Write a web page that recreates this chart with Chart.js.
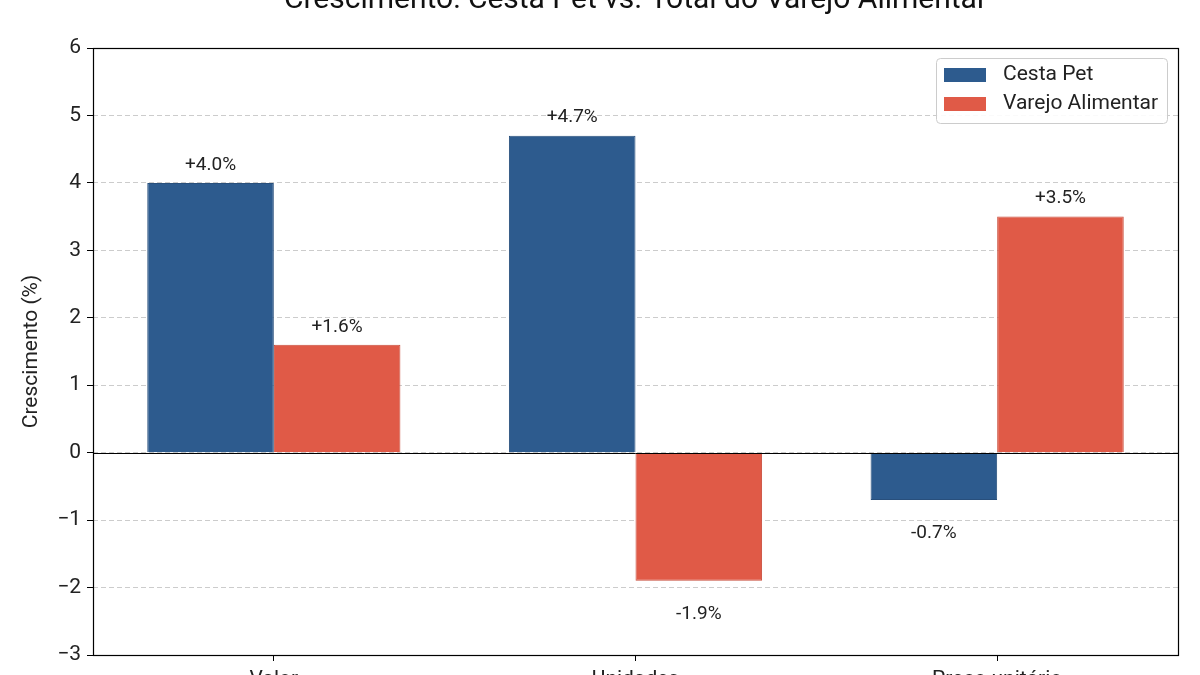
<!DOCTYPE html>
<html>
<head>
<meta charset="utf-8">
<script src="https://cdn.jsdelivr.net/npm/chart.js@4/dist/chart.umd.min.js"></script>
<style>
    html, body { margin: 0; padding: 0; background: #fff; overflow: hidden; }
    #wrap { position: absolute; left: 0; top: -30px; width: 1200px; height: 720px; }
</style>
</head>
<body>
<div id="wrap"><canvas id="chart" width="1200" height="720"></canvas></div>
<script>
const categories = ["Valor", "Unidades", "Preço unitário"];
const seriesNames = ["Cesta Pet", "Varejo Alimentar"];
const cestaPet = [4.0, 4.7, -0.7];
const varejoAlimentar = [1.6, -1.9, 3.5];
const yTicks = [-3, -2, -1, 0, 1, 2, 3, 4, 5, 6];
const chartTitle = "Crescimento: Cesta Pet vs. Total do Varejo Alimentar";

const FONT = "Roboto, 'Open Sans', sans-serif";
const colors = ["#2d5b8e", "#e05a47"];
const edges = ["#284f7c", "#c94d3c"];

// value labels above / below each bar
const barLabels = {
    id: "barLabels",
    afterDatasetsDraw(chart) {
        const ctx = chart.ctx;
        ctx.save();
        ctx.font = "19px " + FONT;
        ctx.fillStyle = "#222";
        ctx.textAlign = "center";
        ctx.textBaseline = "middle";
        chart.data.datasets.forEach((ds, i) => {
            chart.getDatasetMeta(i).data.forEach((bar, j) => {
                const v = ds.data[j];
                const txt = (v >= 0 ? "+" : "") + v.toFixed(1) + "%";
                const y = v >= 0 ? bar.y - 18 : bar.y + 33;
                ctx.fillText(txt, bar.x, y);
            });
        });
        ctx.restore();
    }
};

// title over the axes, zero line, frame and legend box
const frame = {
    id: "frame",
    afterDatasetsDraw(chart) {
        const { ctx, chartArea: a, scales } = chart;
        ctx.save();
        ctx.font = "30px " + FONT;
        ctx.fillStyle = "#111";
        ctx.textAlign = "center";
        ctx.textBaseline = "alphabetic";
        ctx.fillText(chartTitle, (a.left + a.right) / 2, 38);

        const y0 = Math.round(scales.y.getPixelForValue(0)) + 0.5;
        ctx.strokeStyle = "#000";
        ctx.lineWidth = 1;
        ctx.beginPath();
        ctx.moveTo(a.left, y0);
        ctx.lineTo(a.right, y0);
        ctx.stroke();
        ctx.lineWidth = 1.2;
        ctx.strokeRect(a.left + 0.5, a.top + 0.5, a.right - a.left, a.bottom - a.top);

        // legend
        const bx = 936, by = 88, bw = 231, bh = 65;
        ctx.fillStyle = "rgba(255,255,255,0.9)";
        ctx.strokeStyle = "#cccccc";
        ctx.lineWidth = 1;
        ctx.beginPath();
        ctx.roundRect(bx + 0.5, by + 0.5, bw, bh, 4);
        ctx.fill();
        ctx.stroke();
        ctx.font = "21px " + FONT;
        ctx.textAlign = "left";
        ctx.textBaseline = "middle";
        seriesNames.forEach((name, i) => {
            const rowY = by + 17 + i * 29;
            ctx.fillStyle = colors[i];
            ctx.fillRect(944, rowY - 7, 42, 14);
            ctx.fillStyle = "#222";
            ctx.fillText(name, 1003, rowY);
        });
        ctx.restore();
    }
};

new Chart(document.getElementById("chart"), {
    type: "bar",
    data: {
        labels: categories,
        datasets: [
            { label: seriesNames[0], data: cestaPet, backgroundColor: colors[0], borderColor: edges[0], borderWidth: 1 },
            { label: seriesNames[1], data: varejoAlimentar, backgroundColor: colors[1], borderColor: edges[1], borderWidth: 1 }
        ]
    },
    options: {
        responsive: false,
        animation: false,
        layout: { padding: { left: 0, right: 22, top: 78, bottom: 0 } },
        categoryPercentage: 0.7,
        barPercentage: 1.0,
        plugins: {
            legend: { display: false },
            tooltip: { enabled: false },
            title: { display: false }
        },
        scales: {
            x: {
                afterFit: s => { s.height = 35; },
                grid: { display: true, drawOnChartArea: false, offset: false, tickColor: "#000", tickLength: 6 },
                border: { display: false },
                ticks: { color: "#222", padding: 6, font: { family: FONT, size: 21 } }
            },
            y: {
                min: -3,
                max: 6,
                afterFit: s => { s.width = 93; },
                afterBuildTicks: s => { s.ticks = yTicks.map(v => ({ value: v })); },
                grid: { color: "#cccccc", lineWidth: 1, tickColor: "#000", tickLength: 6 },
                border: { display: false, dash: [5, 3] },
                ticks: {
                    color: "#222",
                    padding: 6,
                    font: { family: FONT, size: 21 },
                    callback: v => v < 0 ? "\u2212" + Math.abs(v) : String(v)
                },
                title: {
                    display: true,
                    text: "Crescimento (%)",
                    color: "#222",
                    font: { family: FONT, size: 21 },
                    padding: { top: 19 }
                }
            }
        }
    },
    plugins: [barLabels, frame]
});
</script>
</body>
</html>
